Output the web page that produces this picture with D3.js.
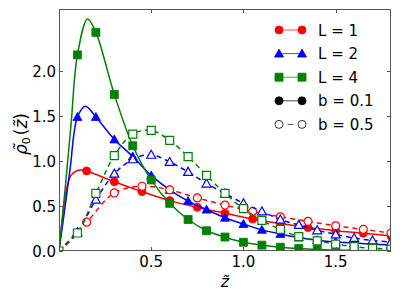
<!DOCTYPE html>
<html>
<head>
<meta charset="utf-8">
<script src="https://cdn.jsdelivr.net/npm/d3@7"></script>
<style>
  body { margin: 0; background: #fff; }
  svg { display: block; font-family: "DejaVu Sans", sans-serif; }
</style>
</head>
<body>
<svg width="400" height="300"></svg>
<script>
// marker positions along z
var zFilled = [0.1, 0.2, 0.3, 0.4, 0.5, 0.6, 0.7, 0.8, 0.9, 1.0, 1.1, 1.2, 1.3, 1.4, 1.5, 1.6, 1.7, 1.8];
var zFilledL1 = [0.15, 0.3, 0.45, 0.6, 0.75, 0.9, 1.05, 1.2, 1.35, 1.5, 1.65, 1.8];
var zOpen = [0, 0.1, 0.2, 0.3, 0.4, 0.5, 0.6, 0.7, 0.8, 0.9, 1.0, 1.1, 1.2, 1.3, 1.4, 1.5, 1.6, 1.7, 1.8];
var zOpenL1 = [0, 0.15, 0.3, 0.45, 0.6, 0.75, 0.9, 1.05, 1.2, 1.35, 1.5, 1.65, 1.8];

// b = 0.1 (filled markers, solid lines)
var rhoL1b01 = [0.89, 0.77, 0.66, 0.56, 0.485, 0.42, 0.355, 0.305, 0.26, 0.225, 0.197, 0.167];
var rhoL2b01 = [1.49, 1.49, 1.24, 1.05, 0.84, 0.68, 0.555, 0.46, 0.37, 0.30, 0.235, 0.19, 0.15, 0.12, 0.10, 0.088, 0.077, 0.067];
var rhoL4b01 = [2.18, 2.43, 1.74, 1.17, 0.79, 0.53, 0.35, 0.225, 0.155, 0.097, 0.065, 0.042, 0.027, 0.017, 0.011, 0.007, 0.005, 0.003];

// extra points of the solid curves near the rise and the peak
var riseZL1 = [0, 0.015, 0.038, 0.065, 0.1, 0.125];
var riseRhoL1 = [0, 0.3, 0.66, 0.84, 0.895, 0.9];
var riseZL2 = [0, 0.03, 0.06, 0.143];
var riseRhoL2 = [0, 0.45, 0.91, 1.61];
var riseZL4 = [0, 0.03, 0.065, 0.155];
var riseRhoL4 = [0, 0.62, 1.4, 2.58];

// b = 0.5 (open markers, dashed lines)
var rhoL1b05 = [0, 0.32, 0.645, 0.72, 0.68, 0.59, 0.51, 0.44, 0.38, 0.33, 0.28, 0.24, 0.20];
var rhoL2b05 = [0, 0.21, 0.57, 0.86, 1.02, 1.07, 0.99, 0.88, 0.75, 0.64, 0.53, 0.44, 0.35, 0.29, 0.23, 0.185, 0.145, 0.117, 0.10];
var rhoL4b05 = [0, 0.2, 0.64, 1.06, 1.30, 1.34, 1.23, 1.05, 0.84, 0.64, 0.47, 0.34, 0.24, 0.16, 0.113, 0.076, 0.048, 0.03, 0.021];

var xTicks = [0.5, 1.0, 1.5];
var yTicks = [0, 0.5, 1.0, 1.5, 2.0];
var legendLabels = ["L = 1", "L = 2", "L = 4", "b = 0.1", "b = 0.5"];

var svg = d3.select("svg");
var pLeft = 59, pRight = 391, pTop = 9, pBottom = 251;

var x = d3.scaleLinear().domain([0, 1.8]).range([pLeft, pRight]);
var y = d3.scaleLinear().domain([0, 2.69]).range([pBottom, pTop]);

function zip(zs, rs) {
    return zs.map(function(z, i) { return [z, rs[i]]; });
}
function curvePts(zs, rs, ez, er) {
    return zip(zs, rs).concat(zip(ez, er)).sort(function(a, b) { return a[0] - b[0]; });
}

var series = [
    {color: "#ff0000", shape: "circle", open: false, marks: zip(zFilledL1, rhoL1b01), line: curvePts(zFilledL1, rhoL1b01, riseZL1, riseRhoL1)},
    {color: "#0000ff", shape: "triangle", open: false, marks: zip(zFilled, rhoL2b01), line: curvePts(zFilled, rhoL2b01, riseZL2, riseRhoL2)},
    {color: "#008000", shape: "square", open: false, marks: zip(zFilled, rhoL4b01), line: curvePts(zFilled, rhoL4b01, riseZL4, riseRhoL4)},
    {color: "#ff0000", shape: "circle", open: true, marks: zip(zOpenL1, rhoL1b05), line: zip(zOpenL1, rhoL1b05)},
    {color: "#0000ff", shape: "triangle", open: true, marks: zip(zOpen, rhoL2b05), line: zip(zOpen, rhoL2b05)},
    {color: "#008000", shape: "square", open: true, marks: zip(zOpen, rhoL4b05), line: zip(zOpen, rhoL4b05)}
];

function markerPath(shape) {
    if (shape === "circle") return "M4,0A4,4 0 1,1 -4,0A4,4 0 1,1 4,0Z";
    if (shape === "square") return "M-4,-4H4V4H-4Z";
    return "M0,-4.5L4.5,3.5L-4.5,3.5Z";
}

svg.append("clipPath").attr("id", "plotclip")
    .append("rect").attr("x", pLeft).attr("y", pTop)
    .attr("width", pRight - pLeft).attr("height", pBottom - pTop);

var plot = svg.append("g").attr("clip-path", "url(#plotclip)");

var line = d3.line()
    .x(function(d) { return x(d[0]); })
    .y(function(d) { return y(d[1]); })
    .curve(d3.curveCatmullRom.alpha(0.5));

series.forEach(function(s) {
    plot.append("path")
        .attr("d", line(s.line))
        .attr("fill", "none")
        .attr("stroke", s.color)
        .attr("stroke-width", 1.5)
        .attr("stroke-dasharray", s.open ? "5,4" : null);

    plot.selectAll(null)
        .data(s.marks)
        .enter().append("path")
        .attr("transform", function(d) { return "translate(" + x(d[0]) + "," + y(d[1]) + ")"; })
        .attr("d", markerPath(s.shape))
        .attr("fill", s.open ? "#fff" : s.color)
        .attr("stroke", s.color)
        .attr("stroke-width", s.open ? 1.2 : 0.8);
});

// frame
svg.append("rect")
    .attr("x", pLeft + 0.5).attr("y", pTop + 0.5)
    .attr("width", pRight - pLeft - 1).attr("height", pBottom - pTop - 1)
    .attr("fill", "none").attr("stroke", "#555").attr("stroke-width", 1);

// ticks (inward, on all four sides)
var tick = svg.append("g").attr("stroke", "#555").attr("stroke-width", 1);
xTicks.forEach(function(t) {
    var px = Math.round(x(t)) + 0.5;
    tick.append("line").attr("x1", px).attr("x2", px).attr("y1", pBottom).attr("y2", pBottom - 4);
    tick.append("line").attr("x1", px).attr("x2", px).attr("y1", pTop).attr("y2", pTop + 4);
});
yTicks.forEach(function(t) {
    var py = Math.round(y(t)) + 0.5;
    tick.append("line").attr("x1", pLeft).attr("x2", pLeft + 4).attr("y1", py).attr("y2", py);
    tick.append("line").attr("x1", pRight).attr("x2", pRight - 4).attr("y1", py).attr("y2", py);
});

svg.selectAll(".xlab").data(xTicks).enter().append("text")
    .attr("x", function(d) { return x(d); })
    .attr("y", 267)
    .attr("text-anchor", "middle")
    .attr("font-size", 15)
    .text(function(d) { return d3.format(".1f")(d); });

svg.selectAll(".ylab").data(yTicks).enter().append("text")
    .attr("x", 56)
    .attr("y", function(d) { return y(d) + 5.5; })
    .attr("text-anchor", "end")
    .attr("font-size", 15)
    .text(function(d) { return d3.format(".1f")(d); });

// axis titles
svg.append("text")
    .attr("x", 225).attr("y", 287)
    .attr("text-anchor", "middle")
    .attr("font-size", 16)
    .attr("font-style", "italic")
    .text("z\u0303");

var yt = svg.append("text")
    .attr("transform", "translate(27,134) rotate(-90)")
    .attr("text-anchor", "middle")
    .attr("font-size", 17);
yt.append("tspan").attr("font-style", "italic").text("\u03c1\u0303");
yt.append("tspan").attr("font-size", 11).attr("dy", 3).text("0");
yt.append("tspan").attr("dy", -3).attr("dx", 2).text("(");
yt.append("tspan").attr("font-style", "italic").text("z\u0303");
yt.append("tspan").text(")");

// legend
var legendRows = [
    {color: "#ff0000", shape: "circle", open: false, dash: false},
    {color: "#0000ff", shape: "triangle", open: false, dash: false},
    {color: "#008000", shape: "square", open: false, dash: false},
    {color: "#000", shape: "circle", open: false, dash: false},
    {color: "#000", shape: "circle", open: true, dash: true}
];
var lg = svg.append("g");
legendRows.forEach(function(r, i) {
    var cy = 30 + i * 23.6;
    lg.append("line")
        .attr("x1", 279).attr("x2", 302).attr("y1", cy).attr("y2", cy)
        .attr("stroke", r.color).attr("stroke-width", 1)
        .attr("stroke-opacity", 0.7)
        .attr("stroke-dasharray", r.dash ? "0,8.5,6,9" : null);
    [279, 302].forEach(function(px) {
        lg.append("path")
            .attr("transform", "translate(" + px + "," + cy + ")")
            .attr("d", markerPath(r.shape))
            .attr("fill", r.open ? "#fff" : r.color)
            .attr("stroke", r.color)
            .attr("stroke-width", 0.8);
    });
    lg.append("text")
        .attr("x", 318).attr("y", cy + 5.5)
        .attr("font-size", 15)
        .text(legendLabels[i]);
});
</script>
</body>
</html>
